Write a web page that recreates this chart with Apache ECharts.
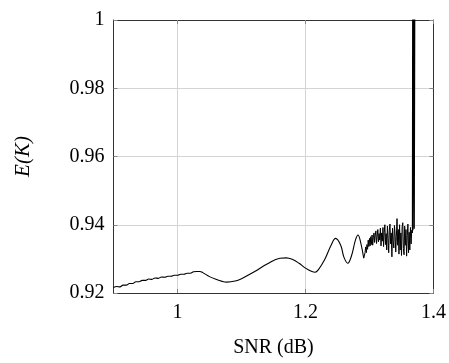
<!DOCTYPE html>
<html><head><meta charset="utf-8">
<script src="https://cdn.jsdelivr.net/npm/echarts@6/dist/echarts.min.js"></script>
<style>html,body{margin:0;padding:0;background:#fff}#c{width:449px;height:363px}</style>
</head><body><div id="c"></div>
<script>
// x tick labels and y tick labels
const xTicks = [1, 1.2, 1.4];
const yTicks = [0.92, 0.94, 0.96, 0.98, 1];

// smooth part of the curve
const smoothX = [0.900,0.905,0.910,0.915,0.920,0.925,0.930,0.935,0.940,0.945,0.950,0.955,0.960,0.965,0.970,0.975,0.980,0.985,0.990,0.995,1.000,1.005,1.010,1.015,1.020,1.025,1.030,1.035,1.040,1.050,1.060,1.070,1.077,1.090,1.100,1.120,1.140,1.160,1.170,1.180,1.190,1.200,1.210,1.215,1.220,1.230,1.240,1.247,1.255,1.260,1.266,1.272,1.278,1.282,1.286,1.291];
const smoothY = [0.9216,0.9219,0.9218,0.9223,0.9223,0.9228,0.9228,0.9233,0.9233,0.9237,0.9237,0.9241,0.9240,0.9244,0.9243,0.9247,0.9246,0.9249,0.9249,0.9252,0.9252,0.9255,0.9255,0.9258,0.9258,0.9262,0.9263,0.9263,0.9259,0.9248,0.9240,0.9234,0.9232,0.9235,0.9242,0.9262,0.9285,0.9302,0.9303,0.9298,0.9287,0.9273,0.9263,0.9261,0.9268,0.9298,0.9340,0.9360,0.9340,0.9305,0.9287,0.9310,0.9355,0.9370,0.9350,0.9302];

// noisy part of the curve
const noiseX = [1.291,1.292,1.293,1.294,1.295,1.296,1.297,1.298,1.299,1.300,1.301,1.302,1.303,1.304,1.305,1.306,1.307,1.308,1.309,1.310,1.311,1.312,1.313,1.314,1.315,1.316,1.317,1.318,1.319,1.320,1.321,1.322,1.323,1.324,1.325,1.326,1.327,1.328,1.329,1.330,1.331,1.332,1.333,1.334,1.335,1.336,1.337,1.338,1.339,1.340,1.341,1.342,1.343,1.344,1.345,1.346,1.347,1.348,1.349,1.350,1.351,1.352,1.353,1.354,1.355,1.356,1.357,1.358,1.359,1.360,1.361,1.362,1.363,1.364,1.365,1.366,1.367];
const noiseY = [0.9302,0.9300,0.9318,0.9335,0.9318,0.9342,0.9328,0.9355,0.9336,0.9360,0.9338,0.9365,0.9342,0.9370,0.9340,0.9362,0.9376,0.9348,0.9370,0.9382,0.9345,0.9366,0.9386,0.9350,0.9374,0.9355,0.9390,0.9338,0.9376,0.9352,0.9392,0.9336,0.9378,0.9400,0.9342,0.9374,0.9326,0.9396,0.9360,0.9318,0.9384,0.9402,0.9344,0.9376,0.9306,0.9390,0.9352,0.9332,0.9398,0.9372,0.9320,0.9366,0.9418,0.9340,0.9386,0.9314,0.9400,0.9326,0.9376,0.9310,0.9394,0.9406,0.9330,0.9312,0.9396,0.9340,0.9386,0.9308,0.9368,0.9402,0.9318,0.9378,0.9326,0.9392,0.9344,0.9384,0.9376];

// final vertical rise
const spikeX = [1.367,1.3675,1.368,1.3695,1.370,1.371];
const spikeY = [0.9376,1.02,0.9384,1.02,0.9388,1.02];

const zip = (a, b) => a.map((v, i) => [v, b[i]]);
const font = '"Liberation Serif", "DejaVu Serif", serif';
const fmt = v => String(+(+v).toFixed(2));

const chart = echarts.init(document.getElementById('c'), null, {renderer: 'canvas'});
const tickStyle = {show: true, inside: true, length: 4, lineStyle: {color: '#888', width: 1}};
chart.setOption({
  animation: false,
  grid: {left: 113.5, right: 15, top: 20, bottom: 67, show: false},
  xAxis: [{
    type: 'value', min: 0.9, max: 1.4, position: 'bottom',
    name: 'SNR (dB)', nameLocation: 'middle', nameGap: 45,
    nameTextStyle: {fontFamily: font, fontSize: 20, color: '#000'},
    axisLine: {show: true, onZero: false, lineStyle: {color: '#333', width: 1}},
    axisTick: Object.assign({customValues: xTicks}, tickStyle),
    axisLabel: {customValues: xTicks, formatter: fmt, fontFamily: font, fontSize: 20, color: '#000', margin: 10},
    splitLine: {show: true, lineStyle: {color: '#d4d4d4', width: 1}}
  }, {
    type: 'value', min: 0.9, max: 1.4, position: 'top',
    axisLine: {show: true, onZero: false, lineStyle: {color: '#333', width: 1}},
    axisTick: Object.assign({customValues: xTicks}, tickStyle),
    axisLabel: {show: false},
    splitLine: {show: false}
  }],
  yAxis: [{
    type: 'value', min: 0.92, max: 1, interval: 0.02, position: 'left',
    name: 'E(K)', nameLocation: 'middle', nameGap: 80,
    nameTextStyle: {fontFamily: font, fontSize: 21, fontStyle: 'italic', color: '#000'},
    axisLine: {show: true, onZero: false, lineStyle: {color: '#333', width: 1}},
    axisTick: tickStyle,
    axisLabel: {formatter: fmt, fontFamily: font, fontSize: 20, color: '#000', margin: 9},
    splitLine: {show: true, lineStyle: {color: '#d4d4d4', width: 1}}
  }, {
    type: 'value', min: 0.92, max: 1, interval: 0.02, position: 'right',
    axisLine: {show: true, onZero: false, lineStyle: {color: '#333', width: 1}},
    axisTick: tickStyle,
    axisLabel: {show: false},
    splitLine: {show: false}
  }],
  series: [{
    type: 'line', xAxisIndex: 0, yAxisIndex: 0, data: zip(smoothX, smoothY),
    smooth: 0.4, showSymbol: false, symbol: 'none', clip: true,
    lineStyle: {color: '#000', width: 1.1}
  }, {
    type: 'line', xAxisIndex: 0, yAxisIndex: 0, data: zip(noiseX, noiseY),
    smooth: false, showSymbol: false, symbol: 'none', clip: true,
    lineStyle: {color: '#000', width: 1}
  }, {
    type: 'line', xAxisIndex: 0, yAxisIndex: 0, data: zip(spikeX, spikeY),
    smooth: false, showSymbol: false, symbol: 'none', clip: true,
    lineStyle: {color: '#000', width: 1.1}
  }]
});
</script></body></html>
